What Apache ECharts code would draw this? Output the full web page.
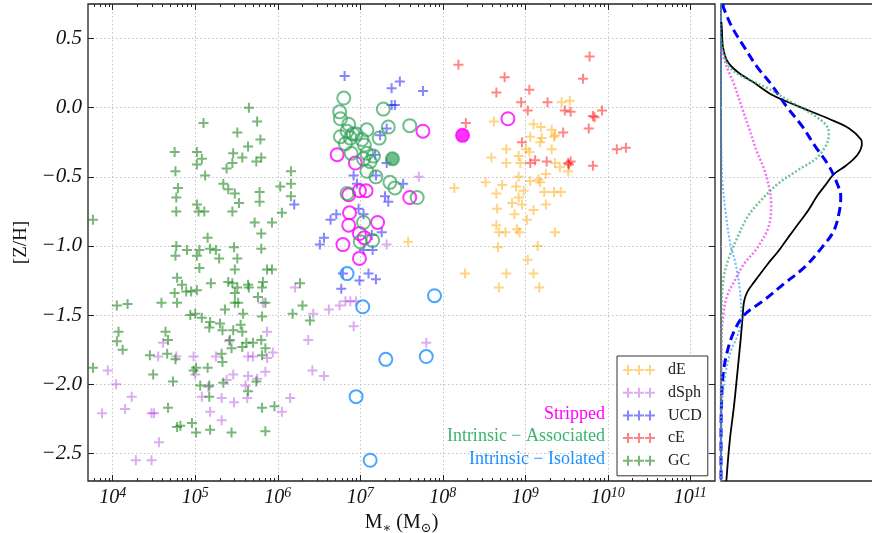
<!DOCTYPE html>
<html>
<head>
<meta charset="utf-8">
<script src="https://cdn.jsdelivr.net/npm/echarts@6/dist/echarts.min.js"></script>
<style>
  html, body { margin: 0; padding: 0; background: #fff; }
  #chart { width: 872px; height: 533px; }
</style>
</head>
<body>
<div id="chart"></div>
<script>
// x = log10(M* / Msun), y = [Z/H]
const gcPoints = [
  [5.65,0.00],[5.10,-0.11],[5.75,-0.10],[5.51,-0.18],[5.79,-0.23],[5.64,-0.28],[4.75,-0.32],[5.02,-0.32],[5.46,-0.33],[5.08,-0.37],
  [5.57,-0.36],[5.02,-0.41],[5.45,-0.40],[5.74,-0.39],[5.80,-0.36],[6.16,-0.46],[4.76,-0.46],[5.12,-0.49],[5.38,-0.44],[5.34,-0.55],
  [5.40,-0.59],[4.79,-0.58],[6.16,-0.55],[6.03,-0.57],[5.48,-0.62],[5.78,-0.61],[4.77,-0.65],[6.16,-0.64],[5.53,-0.69],[5.78,-0.68],
  [5.02,-0.70],[6.05,-0.76],[4.77,-0.75],[5.04,-0.75],[5.11,-0.75],[5.45,-0.75],[5.72,-0.83],[5.93,-0.83],[5.80,-0.91],[5.15,-0.94],
  [3.76,-0.81],[4.77,-1.00],[4.90,-1.03],[5.05,-1.03],[5.18,-1.02],[5.25,-1.03],[5.47,-1.01],[5.80,-1.02],[4.76,-1.07],[5.02,-1.07],
  [5.29,-1.09],[5.51,-1.09],[5.05,-1.16],[5.48,-1.17],[5.87,-1.17],[5.93,-1.17],[4.78,-1.23],[4.84,-1.28],[4.75,-1.34],[4.78,-1.41],
  [5.19,-1.27],[4.89,-1.33],[4.95,-1.33],[5.02,-1.32],[4.59,-1.41],[4.05,-1.43],[4.18,-1.42],[4.94,-1.50],[5.00,-1.49],[5.08,-1.52],
  [5.18,-1.55],[5.17,-1.59],[5.30,-1.56],[5.33,-1.61],[5.46,-1.61],[5.55,-1.57],[5.57,-1.62],[5.36,-1.46],[5.48,-1.41],[5.52,-1.41],
  [5.64,-1.28],[5.65,-1.30],[5.40,-1.26],[5.45,-1.27],[5.51,-1.30],[5.82,-1.26],[5.81,-1.30],[5.85,-1.41],[5.81,-1.51],[4.07,-1.62],
  [4.05,-1.69],[4.12,-1.75],[3.76,-1.88],[4.64,-1.62],[4.67,-1.68],[4.45,-1.79],[4.66,-1.78],[4.76,-1.82],[4.49,-1.93],[4.73,-1.98],
  [4.67,-2.17],[4.78,-2.31],[4.82,-2.30],[4.96,-2.28],[5.01,-2.35],[5.18,-2.33],[5.44,-2.35],[5.85,-2.34],[5.81,-2.17],[5.96,-2.16],
  [5.74,-1.98],[5.64,-2.05],[4.98,-1.90],[5.01,-1.88],[5.15,-1.88],[5.06,-2.01],[5.17,-2.01],[5.34,-1.99],[5.17,-2.09],[5.42,-1.68],
  [5.44,-1.74],[5.62,-1.70],[5.70,-1.70],[5.80,-1.68],[5.85,-1.74],[5.57,-1.73],[5.81,-1.79],[6.18,-1.49],[6.27,-1.27],[5.32,-1.78],
  [5.33,-1.84],[5.48,-1.34],[5.76,-1.37],[5.58,-1.49],[6.30,-1.43],[6.39,-1.54]
];
const dsphPoints = [
  [3.87,-2.21],[3.94,-1.90],[4.04,-2.00],[4.23,-2.09],[4.15,-2.18],[4.47,-2.21],[4.50,-2.21],[4.56,-2.42],[4.28,-2.55],[4.47,-2.55],
  [4.61,-1.70],[4.55,-1.80],[4.77,-1.80],[4.98,-1.80],[5.00,-1.93],[5.08,-2.09],[5.16,-2.02],[5.18,-2.20],[5.32,-2.10],[5.32,-2.26],
  [5.25,-1.80],[5.41,-1.69],[5.46,-1.93],[5.47,-2.13],[5.61,-2.01],[5.63,-2.10],[5.64,-1.94],[5.64,-1.80],[5.70,-1.80],[5.75,-1.96],
  [5.87,-1.62],[5.87,-1.81],[5.85,-1.91],[5.94,-1.77],[6.05,-2.20],[6.15,-2.10],[6.21,-1.30],[6.43,-1.49],[6.62,-1.46],[6.75,-1.43],
  [6.82,-1.40],[6.88,-1.40],[6.95,-1.40],[6.92,-1.58],[6.37,-1.68],[6.42,-1.90],[6.56,-1.94],[7.80,-1.70],[7.71,-0.50],[7.32,-0.99],
  [5.82,-1.41],[5.38,-1.97]
];
const ucdPoints = [
  [6.81,0.23],[7.48,0.19],[7.38,0.14],[7.76,0.12],[7.38,0.02],[7.42,0.02],[7.32,-0.15],[7.24,-0.20],[7.18,-0.34],[7.32,-0.40],
  [7.19,-0.49],[6.92,-0.49],[6.96,-0.55],[7.52,-0.55],[7.30,-0.64],[7.34,-0.68],[6.98,-0.73],[7.04,-0.77],[6.71,-0.77],[6.64,-0.81],
  [7.14,-0.92],[7.26,-0.90],[6.56,-0.94],[6.51,-0.99],[7.04,-1.03],[7.15,-1.03],[7.10,-1.20],[7.19,-1.24],[6.99,-1.25],[6.79,-1.20],
  [6.77,-1.31],[6.20,-0.70]
];
const cePoints = [
  [8.19,0.31],[9.78,0.37],[9.70,0.21],[8.75,0.22],[8.65,0.11],[9.05,0.13],[8.95,0.04],[9.27,0.04],[9.03,-0.02],[9.48,-0.02],
  [9.55,-0.03],[9.82,-0.06],[9.84,-0.07],[9.93,-0.02],[9.77,-0.15],[9.46,-0.18],[8.28,-0.11],[8.96,-0.25],[10.11,-0.30],[10.22,-0.29],
  [9.06,-0.40],[9.12,-0.38],[9.26,-0.39],[9.52,-0.40],[9.55,-0.39],[9.82,-0.42],[9.53,-0.41]
];
const dePoints = [
  [8.62,-0.10],[9.44,0.04],[9.54,0.05],[9.10,-0.12],[9.19,-0.14],[9.32,-0.16],[9.36,-0.20],[9.06,-0.21],[9.20,-0.22],[9.18,-0.25],
  [9.35,-0.21],[8.77,-0.30],[9.01,-0.30],[9.05,-0.32],[9.32,-0.30],[8.59,-0.36],[8.77,-0.40],[8.92,-0.35],[8.94,-0.40],[9.36,-0.40],
  [9.42,-0.43],[9.52,-0.46],[9.25,-0.48],[8.92,-0.50],[9.06,-0.53],[9.16,-0.52],[9.18,-0.54],[8.52,-0.54],[8.72,-0.56],[8.65,-0.62],
  [8.89,-0.57],[8.98,-0.60],[9.23,-0.61],[9.35,-0.61],[9.43,-0.61],[8.14,-0.58],[8.92,-0.65],[8.96,-0.70],[8.84,-0.69],[9.25,-0.70],
  [8.66,-0.73],[9.10,-0.74],[8.87,-0.77],[9.02,-0.81],[8.65,-0.85],[8.68,-0.90],[8.76,-0.90],[8.90,-0.88],[8.93,-0.90],[9.36,-0.90],
  [8.67,-1.01],[9.15,-1.00],[9.03,-1.10],[8.27,-1.20],[8.77,-1.20],[9.10,-1.20],[8.68,-1.30],[9.17,-1.30],[7.58,-0.97]
];
const strippedPoints = [
  [7.76,-0.17],[8.79,-0.08],[6.72,-0.34],[6.94,-0.40],[6.86,-0.63],[6.99,-0.60],[7.07,-0.60],[7.60,-0.65],[6.87,-0.76],[7.21,-0.83],
  [6.86,-0.85],[6.99,-0.91],[7.05,-0.94],[6.79,-0.99],[6.99,-1.09]
];
const strippedFilled = [[8.24,-0.20]];
const associatedPoints = [
  [6.80,0.07],[6.75,-0.03],[6.76,-0.08],[7.28,-0.01],[7.60,-0.13],[7.34,-0.14],[6.86,-0.12],[7.08,-0.16],[6.84,-0.17],[6.91,-0.19],
  [6.95,-0.19],[6.76,-0.21],[6.88,-0.22],[6.82,-0.26],[7.02,-0.23],[7.05,-0.27],[7.23,-0.22],[6.89,-0.33],[7.08,-0.33],[7.04,-0.37],
  [7.16,-0.35],[7.12,-0.39],[7.08,-0.46],[7.19,-0.50],[7.36,-0.54],[7.42,-0.58],[7.69,-0.65],[6.84,-0.62],[7.04,-0.83],[7.00,-0.97],
  [7.15,-0.96]
];
const associatedFilled = [[7.39,-0.37]];
const isolatedPoints = [[6.84,-1.20],[7.03,-1.44],[7.90,-1.36],[7.31,-1.82],[7.80,-1.80],[6.95,-2.09],[7.12,-2.55]];

// side panel: [density, [Z/H]]
const totalCurve = [
  [0.003,0.62],[0.007,0.55],[0.014,0.44],[0.043,0.34],[0.116,0.26],[0.236,0.18],[0.368,0.09],[0.549,0.01],[0.765,-0.08],[0.910,-0.15],
  [0.994,-0.23],[1.000,-0.26],[0.969,-0.34],[0.886,-0.42],[0.801,-0.48],[0.741,-0.56],[0.681,-0.64],[0.621,-0.74],[0.549,-0.84],[0.476,-0.94],
  [0.405,-1.04],[0.332,-1.13],[0.236,-1.26],[0.188,-1.33],[0.164,-1.40],[0.152,-1.53],[0.140,-1.67],[0.116,-1.92],[0.092,-2.16],[0.062,-2.41],
  [0.038,-2.70]
];
const blueCurve = [
  [0.014,0.75],[0.019,0.72],[0.080,0.58],[0.164,0.44],[0.260,0.29],[0.356,0.17],[0.464,0.01],[0.573,-0.13],[0.669,-0.28],[0.765,-0.42],
  [0.825,-0.55],[0.850,-0.64],[0.842,-0.74],[0.801,-0.89],[0.717,-1.01],[0.597,-1.15],[0.452,-1.27],[0.308,-1.39],[0.164,-1.50],[0.092,-1.62],
  [0.043,-1.77],[0.014,-1.94],[0.003,-2.16],[0.000,-2.40],[0.000,-2.70]
];
const strippedCurve = [
  [0.000,0.42],[0.043,0.29],[0.092,0.17],[0.152,-0.01],[0.200,-0.15],[0.248,-0.30],[0.308,-0.45],[0.344,-0.59],[0.356,-0.69],[0.344,-0.84],
  [0.260,-1.01],[0.164,-1.13],[0.092,-1.26],[0.043,-1.36],[0.019,-1.48],[0.003,-1.67],[0.000,-2.70]
];
const associatedCurve = [
  [0.000,0.50],[0.055,0.30],[0.164,0.22],[0.332,0.14],[0.500,0.04],[0.669,-0.06],[0.760,-0.15],[0.765,-0.20],[0.693,-0.35],[0.549,-0.45],
  [0.405,-0.55],[0.284,-0.67],[0.188,-0.79],[0.116,-0.94],[0.055,-1.09],[0.019,-1.23],[0.003,-1.50],[0.000,-2.70]
];
const isolatedCurve = [
  [0.000,0.75],[0.000,0.10],[0.007,-0.48],[0.031,-0.74],[0.067,-0.99],[0.104,-1.13],[0.135,-1.33],[0.145,-1.53],[0.116,-1.65],[0.067,-1.77],
  [0.031,-1.93],[0.007,-2.16],[0.000,-2.41],[0.000,-2.70]
];

const majorX = [4, 5, 6, 7, 8, 9, 10, 11];
const yTicks = [-2.5, -2.0, -1.5, -1.0, -0.5, 0.0, 0.5];
const typeNames = ['dE', 'dSph', 'UCD', 'cE', 'GC'];
const groupNames = ['Stripped', 'Intrinsic \u2212 Associated', 'Intrinsic \u2212 Isolated'];

// minor log ticks, 2..9 x 10^n
const minorX = [];
for (let n = 3; n <= 11; n++) {
    for (let k = 2; k <= 9; k++) {
        const v = n + Math.log10(k);
        if (v > 3.7 && v < 11.3) minorX.push(v);
    }
}

const FONT = "'Liberation Serif', 'DejaVu Serif', serif";
const PLUS = 'path://M4,0h2v4h4v2h-4v4h-2v-4h-4v-2h4z';
const PLUS3 = 'path://M0,4h10v2h-10z M4,0h2v10h-2z M11,4h10v2h-10z M15,0h2v10h-2z M22,4h10v2h-10z M26,0h2v10h-2z';
const X_RANGE = [3.7, 11.3];
const Y_RANGE = [-2.7, 0.75];
const gridLine = { show: true, lineStyle: { color: '#c4c4c4', width: 1, type: [1.5, 2.5] } };
const noLine = { show: false, onZero: false };

function plusSeries(name, data, color) {
    return { type: 'scatter', name: name, data: data, xAxisIndex: 0, yAxisIndex: 0,
        symbol: PLUS, symbolSize: 10, itemStyle: { color: color }, silent: true };
}
function ringSeries(name, data, color, filled) {
    return { type: 'scatter', name: name, data: data, xAxisIndex: 0, yAxisIndex: 0,
        symbol: 'circle', symbolSize: 13,
        itemStyle: { color: filled ? color : 'rgba(0,0,0,0)', borderColor: color, borderWidth: 2 }, silent: true };
}
function curveSeries(name, data, color, width, type) {
    return { type: 'line', name: name, data: data, xAxisIndex: 4, yAxisIndex: 2, showSymbol: false,
        smooth: 0.35, lineStyle: { color: color, width: width, type: type }, silent: true };
}
function tickAxis(position, values, len) {
    return {
        gridIndex: 0, type: 'value', position: position, min: X_RANGE[0], max: X_RANGE[1],
        axisLine: noLine,
        axisTick: { inside: true, length: len, customValues: values, lineStyle: { color: '#222' } },
        axisLabel: { show: false }, splitLine: { show: false }
    };
}

const chart = echarts.init(document.getElementById('chart'), null, { renderer: 'canvas' });
chart.setOption({
    animation: false,
    backgroundColor: '#fff',
    grid: [
        { left: 88, top: 4, width: 627, height: 477, outerBoundsMode: 'none', containLabel: false,
          show: true, borderColor: '#222', borderWidth: 1.3 },
        { left: 721, top: 4, width: 162, height: 477, outerBoundsMode: 'none', containLabel: false,
          show: true, borderColor: '#222', borderWidth: 1.3 }
    ],
    legend: [
        {
            data: typeNames, orient: 'vertical', left: 617, top: 356,
            icon: PLUS3, itemWidth: 32, itemHeight: 10, itemGap: 6.7,
            padding: [6, 6, 7, 6], borderColor: '#333', borderWidth: 1, backgroundColor: '#fff',
            textStyle: { fontFamily: FONT, fontSize: 16, lineHeight: 16, color: '#222', padding: [0, 0, 0, 8] }
        },
        {
            data: [
                { name: groupNames[0], textStyle: { color: '#ff00ff' } },
                { name: groupNames[1], textStyle: { color: '#3cb371' } },
                { name: groupNames[2], textStyle: { color: '#1e90ff' } }
            ],
            orient: 'vertical', right: 262, top: 405, align: 'right',
            icon: 'none', itemWidth: 0, itemHeight: 14, itemGap: 4.7, padding: 0,
            textStyle: { fontFamily: FONT, fontSize: 18, lineHeight: 18 }
        }
    ],
    xAxis: [
        {
            gridIndex: 0, type: 'value', position: 'bottom', min: X_RANGE[0], max: X_RANGE[1],
            axisLine: noLine,
            axisTick: { inside: true, length: 6, customValues: majorX, lineStyle: { color: '#222' } },
            axisLabel: {
                customValues: majorX, margin: 5,
                formatter: v => '{b|10}{s|' + v + '}',
                rich: {
                    b: { fontFamily: FONT, fontStyle: 'italic', fontSize: 20, color: '#111', lineHeight: 24 },
                    s: { fontFamily: FONT, fontStyle: 'italic', fontSize: 14, color: '#111', verticalAlign: 'top' }
                }
            },
            splitLine: gridLine,
            name: '{n|M}{u|\u2217}{n| (M}{u|\u2299}{n|)}', nameLocation: 'middle', nameGap: 27,
            nameTextStyle: {
                rich: {
                    n: { fontFamily: FONT, fontSize: 20, color: '#111', lineHeight: 24 },
                    u: { fontFamily: FONT, fontSize: 13, color: '#111', verticalAlign: 'bottom' }
                }
            }
        },
        tickAxis('top', majorX, 6),
        tickAxis('bottom', minorX, 3),
        tickAxis('top', minorX, 3),
        {
            gridIndex: 1, type: 'value', min: 0, max: 1.15,
            axisLine: noLine, axisTick: { show: false }, axisLabel: { show: false }, splitLine: { show: false }
        }
    ],
    yAxis: [
        {
            gridIndex: 0, type: 'value', position: 'left', min: Y_RANGE[0], max: Y_RANGE[1],
            axisLine: noLine,
            axisTick: { inside: true, length: 6, customValues: yTicks, lineStyle: { color: '#222' } },
            axisLabel: {
                customValues: yTicks, margin: 6,
                formatter: v => v.toFixed(1).replace('-', '\u2212'),
                fontFamily: FONT, fontStyle: 'italic', fontSize: 21, color: '#111'
            },
            splitLine: gridLine,
            name: '[Z/H]', nameLocation: 'middle', nameGap: 54, nameRotate: 90,
            nameTextStyle: { fontFamily: FONT, fontSize: 19, color: '#111' }
        },
        {
            gridIndex: 0, type: 'value', position: 'right', min: Y_RANGE[0], max: Y_RANGE[1],
            axisLine: noLine,
            axisTick: { inside: true, length: 6, customValues: yTicks, lineStyle: { color: '#222' } },
            axisLabel: { show: false }, splitLine: { show: false }
        },
        {
            gridIndex: 1, type: 'value', position: 'left', min: Y_RANGE[0], max: Y_RANGE[1],
            axisLine: noLine,
            axisTick: { show: false, customValues: yTicks },
            axisLabel: { show: false },
            splitLine: gridLine
        }
    ],
    series: [
        plusSeries('dE', dePoints, 'rgba(255,165,0,0.6)'),
        plusSeries('dSph', dsphPoints, 'rgba(148,0,211,0.4)'),
        plusSeries('UCD', ucdPoints, 'rgba(0,0,255,0.6)'),
        plusSeries('cE', cePoints, 'rgba(255,0,0,0.6)'),
        plusSeries('GC', gcPoints, 'rgba(20,130,20,0.72)'),
        ringSeries(groupNames[0], strippedPoints, '#ff00ff', false),
        ringSeries('Stripped (filled)', strippedFilled, '#ff00ff', true),
        ringSeries(groupNames[1], associatedPoints, 'rgba(46,160,87,0.85)', false),
        ringSeries('Associated (filled)', associatedFilled, 'rgba(46,160,87,0.85)', true),
        ringSeries(groupNames[2], isolatedPoints, '#1e90ff', false),
        curveSeries('all', totalCurve, '#000', 1.8, 'solid'),
        curveSeries('blue', blueCurve, '#0000ff', 3, [9, 5]),
        curveSeries('stripped kde', strippedCurve, 'rgba(238,70,238,0.75)', 2.5, [2, 2]),
        curveSeries('associated kde', associatedCurve, 'rgba(60,170,110,0.7)', 2.5, [2, 2]),
        curveSeries('isolated kde', isolatedCurve, 'rgba(30,144,255,0.65)', 2, [2, 2])
    ]
});
</script>
</body>
</html>
